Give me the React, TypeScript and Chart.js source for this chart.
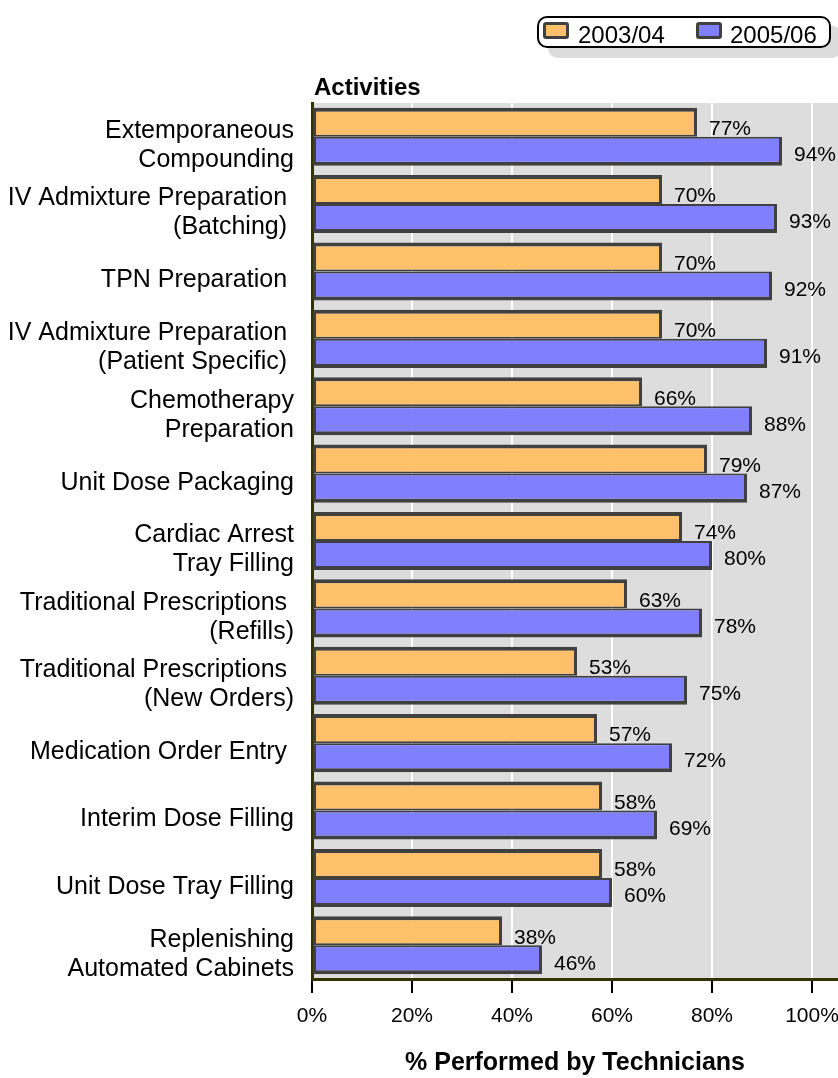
import React, { useEffect, useRef } from "react";
import { Chart, registerables } from "chart.js";

Chart.register(...registerables);

const categories: string[][] = [
  ["Extemporaneous", "Compounding"],
  ["IV Admixture Preparation ", "(Batching) "],
  ["TPN Preparation "],
  ["IV Admixture Preparation ", "(Patient Specific) "],
  ["Chemotherapy", "Preparation"],
  ["Unit Dose Packaging"],
  ["Cardiac Arrest", "Tray Filling"],
  ["Traditional Prescriptions ", "(Refills)"],
  ["Traditional Prescriptions ", "(New Orders)"],
  ["Medication Order Entry "],
  ["Interim Dose Filling"],
  ["Unit Dose Tray Filling"],
  ["Replenishing", "Automated Cabinets"],
];

const values2003: number[] = [77, 70, 70, 70, 66, 79, 74, 63, 53, 57, 58, 58, 38];
const values2005: number[] = [94, 93, 92, 91, 88, 87, 80, 78, 75, 72, 69, 60, 46];

const seriesLabels: string[] = ["2003/04", "2005/06"];
const tickValues: number[] = [0, 20, 40, 60, 80, 100];

const FONT = '"Liberation Sans", Arial, Helvetica, sans-serif';
const ORANGE = "#FFC06B";
const PURPLE = "#8080FF";
const BORDER = "#404040";
const AXIS = "#333300";

const bgPlugin = {
  id: "plotBg",
  beforeDraw(chart: any) {
    const { ctx, chartArea } = chart;
    if (!chartArea) return;
    ctx.save();
    ctx.fillStyle = "#DDDDDD";
    ctx.fillRect(chartArea.left, chartArea.top, chartArea.right - chartArea.left, chartArea.bottom - chartArea.top);
    ctx.restore();
  },
};

const labelPlugin = {
  id: "valueLabels",
  afterDatasetsDraw(chart: any) {
    const ctx = chart.ctx;
    ctx.save();
    ctx.font = `21px ${FONT}`;
    ctx.fillStyle = "#000";
    ctx.textAlign = "left";
    ctx.textBaseline = "middle";
    chart.data.datasets.forEach((ds: any, di: number) => {
      const meta = chart.getDatasetMeta(di);
      meta.data.forEach((el: any, i: number) => {
        const v = ds.data[i];
        const dy = di === 0 ? 7 : 4;
        ctx.fillText(`${v}%`, el.x + 12, el.y + dy);
      });
    });
    ctx.restore();
  },
  afterDraw(chart: any) {
    const ctx = chart.ctx;
    const { chartArea } = chart;
    ctx.save();
    ctx.font = `bold 24px ${FONT}`;
    ctx.fillStyle = "#000";
    ctx.textAlign = "left";
    ctx.textBaseline = "middle";
    ctx.fillText("Activities", chartArea.left + 2, chartArea.top - 15);
    ctx.restore();
  },
};

export default function App() {
  const canvasRef = useRef<HTMLCanvasElement | null>(null);

  useEffect(() => {
    document.body.style.margin = "0";
    const canvas = canvasRef.current;
    if (!canvas) return;
    const chart = new Chart(canvas, {
      type: "bar",
      data: {
        labels: categories,
        datasets: [
          {
            label: seriesLabels[0],
            data: values2003,
            backgroundColor: ORANGE,
            borderColor: BORDER,
            borderWidth: { top: 4, bottom: 2, left: 3, right: 3 },
            borderSkipped: false,
            categoryPercentage: 0.862,
            barPercentage: 1,
          },
          {
            label: seriesLabels[1],
            data: values2005,
            backgroundColor: PURPLE,
            borderColor: BORDER,
            borderWidth: { top: 2, bottom: 4, left: 3, right: 3 },
            borderSkipped: false,
            categoryPercentage: 0.862,
            barPercentage: 1,
          },
        ],
      },
      options: {
        indexAxis: "y",
        responsive: false,
        animation: false,
        devicePixelRatio: 1,
        layout: { padding: { top: 103, left: 0, right: 0, bottom: 0 } },
        plugins: {
          legend: { display: false },
          tooltip: { enabled: false },
          title: { display: false },
        },
        scales: {
          x: {
            type: "linear",
            position: "bottom",
            min: 0,
            max: 105.2,
            afterBuildTicks: (s: any) => {
              s.ticks = tickValues.map((v) => ({ value: v }));
            },
            ticks: {
              callback: (v: any) => `${v}%`,
              font: { family: FONT, size: 21 },
              color: "#000",
              padding: 11,
              maxRotation: 0,
              autoSkip: false,
            },
            grid: {
              color: (c: any) => (c.tick && c.tick.value === 0 ? "rgba(0,0,0,0)" : "#FFFFFF"),
              lineWidth: 2,
              drawTicks: true,
              tickLength: 14,
              tickColor: "#000",
              tickWidth: 2,
            },
            border: { display: true, color: AXIS, width: 3 },
            title: {
              display: true,
              text: "% Performed by Technicians",
              font: { family: FONT, size: 25, weight: "bold" },
              color: "#000",
              padding: { top: 0, bottom: 0 },
            },
            afterFit: (s: any) => {
              s.height = 99;
              s.paddingLeft = 0;
              s.paddingRight = 0;
            },
          },
          y: {
            type: "category",
            position: "left",
            offset: true,
            ticks: {
              font: { family: FONT, size: 25, lineHeight: 1.16 },
              color: "#000",
              padding: 18,
              labelOffset: 9,
              autoSkip: false,
            },
            grid: { display: false, drawTicks: false },
            border: { display: true, color: AXIS, width: 3 },
            afterFit: (s: any) => {
              s.width = 312;
              s.paddingTop = 0;
              s.paddingBottom = 0;
            },
          },
        },
      } as any,
      plugins: [bgPlugin, labelPlugin],
    });
    return () => chart.destroy();
  }, []);

  const swatch = (left: number, color: string): React.CSSProperties => ({
    position: "absolute",
    left,
    top: 22,
    width: 26,
    height: 17,
    boxSizing: "border-box",
    border: `3px solid ${BORDER}`,
    borderRadius: 3,
    background: color,
  });
  const legendText = (left: number): React.CSSProperties => ({
    position: "absolute",
    left,
    top: 23,
    fontFamily: FONT,
    fontSize: 24,
    lineHeight: "24px",
    color: "#000",
    whiteSpace: "nowrap",
  });

  return (
    <div style={{ position: "relative", width: 838, height: 1078, overflow: "hidden", background: "#fff" }}>
      <canvas ref={canvasRef} width={838} height={1078} style={{ display: "block", width: 838, height: 1078 }} />
      <div
        style={{
          position: "absolute",
          left: 537,
          top: 16,
          width: 294,
          height: 32,
          boxSizing: "border-box",
          border: "2px solid #000",
          borderRadius: 10,
          background: "#fff",
          boxShadow: "11px 10px 0 0 #DCDCDC",
        }}
      />
      <div style={swatch(543, ORANGE)} />
      <div style={legendText(578)}>{seriesLabels[0]}</div>
      <div style={swatch(696, PURPLE)} />
      <div style={legendText(730)}>{seriesLabels[1]}</div>
    </div>
  );
}
